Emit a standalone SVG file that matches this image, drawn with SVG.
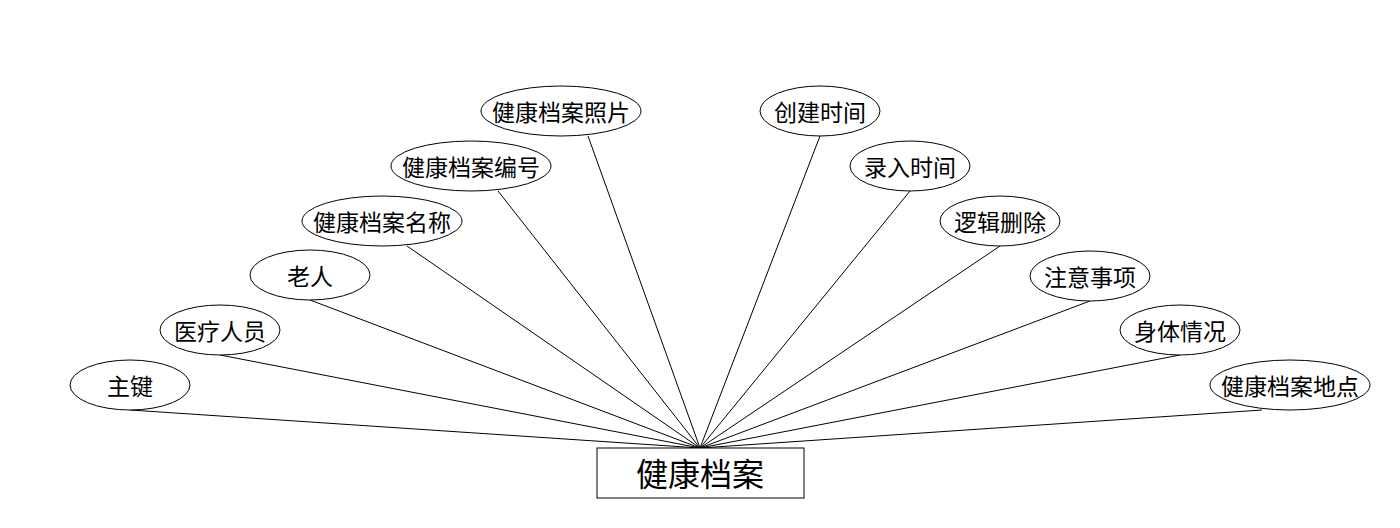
<svg xmlns="http://www.w3.org/2000/svg" width="1400" height="528" viewBox="0 0 1400 528">
<style>
.e{fill:#fff;stroke:#000;stroke-width:1}
.t{font-family:"Noto Sans CJK SC","Microsoft YaHei",sans-serif;font-size:23px;fill:#000;text-anchor:middle;dominant-baseline:central}
.m{font-size:32px}
.c line{stroke:#000;stroke-width:1}
</style>
<rect width="1400" height="528" fill="#fff"/>
<g id="connectors" class="c">
<line x1="700" y1="448" x2="130" y2="410"/>
<line x1="700" y1="448" x2="220" y2="355"/>
<line x1="700" y1="448" x2="310" y2="300"/>
<line x1="700" y1="448" x2="407" y2="246"/>
<line x1="700" y1="448" x2="498" y2="191"/>
<line x1="700" y1="448" x2="588" y2="136"/>
<line x1="700" y1="448" x2="820" y2="136"/>
<line x1="700" y1="448" x2="910" y2="191"/>
<line x1="700" y1="448" x2="1000" y2="246"/>
<line x1="700" y1="448" x2="1090" y2="301"/>
<line x1="700" y1="448" x2="1180" y2="355"/>
<line x1="700" y1="448" x2="1262" y2="410"/>
</g>
<g id="main"><rect x="597" y="448" width="207" height="50" fill="#fff" stroke="#000"/><text class="t m" x="700" y="472">健康档案</text></g>
<g id="n1"><ellipse class="e" cx="130" cy="385" rx="60" ry="25"/><text class="t" x="130" y="385">主键</text></g>
<g id="n2"><ellipse class="e" cx="220" cy="330" rx="60" ry="25"/><text class="t" x="220" y="330">医疗人员</text></g>
<g id="n3"><ellipse class="e" cx="310" cy="275" rx="60" ry="25"/><text class="t" x="310" y="275">老人</text></g>
<g id="n4"><ellipse class="e" cx="382" cy="221" rx="80" ry="25"/><text class="t" x="382" y="221">健康档案名称</text></g>
<g id="n5"><ellipse class="e" cx="471" cy="166" rx="80" ry="25"/><text class="t" x="471" y="166">健康档案编号</text></g>
<g id="n6"><ellipse class="e" cx="561" cy="111" rx="80" ry="25"/><text class="t" x="561" y="111">健康档案照片</text></g>
<g id="n7"><ellipse class="e" cx="820" cy="111" rx="60" ry="25"/><text class="t" x="820" y="111">创建时间</text></g>
<g id="n8"><ellipse class="e" cx="910" cy="166" rx="60" ry="25"/><text class="t" x="910" y="166">录入时间</text></g>
<g id="n9"><ellipse class="e" cx="1000" cy="221" rx="60" ry="25"/><text class="t" x="1000" y="221">逻辑删除</text></g>
<g id="n10"><ellipse class="e" cx="1090" cy="276" rx="60" ry="25"/><text class="t" x="1090" y="276">注意事项</text></g>
<g id="n11"><ellipse class="e" cx="1180" cy="330" rx="60" ry="25"/><text class="t" x="1180" y="330">身体情况</text></g>
<g id="n12"><ellipse class="e" cx="1290" cy="385" rx="80" ry="25"/><text class="t" x="1290" y="385">健康档案地点</text></g>
</svg>
